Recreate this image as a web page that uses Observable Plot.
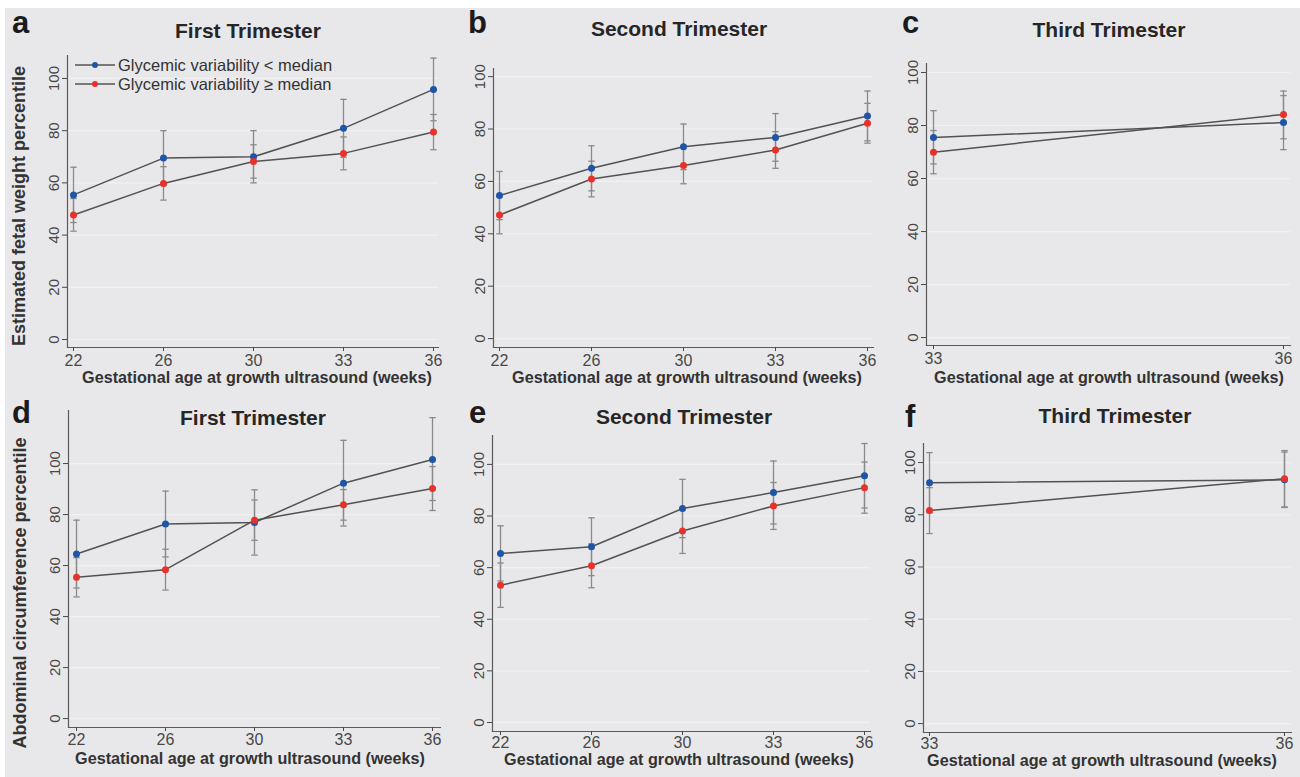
<!DOCTYPE html>
<html>
<head>
<meta charset="utf-8">
<script src="https://cdn.jsdelivr.net/npm/d3@7"></script>
<script src="https://cdn.jsdelivr.net/npm/@observablehq/plot@0.6"></script>
<style>
  html, body { margin: 0; padding: 0; background: #ffffff; }
  #root { position: relative; width: 1300px; height: 777px; background: #ffffff; overflow: hidden;
          font-family: "Liberation Sans", Arial, sans-serif; }
  #bg { position: absolute; left: 5px; top: 8px; right: 0; bottom: 0; background: #e8e8ea; }
  .panel { position: absolute; }
  #overlay { position: absolute; left: 0; top: 0; pointer-events: none; }
</style>
</head>
<body>
<div id="root"><div id="bg"></div></div>
<script>
// ---------- data ----------
const groups = ["Glycemic variability < median", "Glycemic variability \u2265 median"];
const weeksAll = [22, 26, 30, 33, 36];
const weeksThird = [33, 36];
const yTicks = [0, 20, 40, 60, 80, 100];

// a: EFW, first trimester
const efwFirstBelow   = [55.4, 69.5, 70.0, 80.9, 95.8];
const efwFirstBelowLo = [44.8, 59.0, 60.0, 69.8, 83.8];
const efwFirstBelowHi = [66.0, 80.0, 80.0, 92.0, 107.8];
const efwFirstAbove   = [47.7, 59.8, 68.2, 71.3, 79.5];
const efwFirstAboveLo = [41.5, 53.4, 61.8, 65.0, 72.7];
const efwFirstAboveHi = [54.0, 66.2, 74.6, 77.6, 86.2];

// b: EFW, second trimester
const efwSecondBelow   = [54.6, 65.0, 73.2, 76.8, 85.0];
const efwSecondBelowLo = [45.4, 56.4, 64.5, 67.7, 75.5];
const efwSecondBelowHi = [63.8, 73.6, 81.9, 85.9, 94.5];
const efwSecondAbove   = [47.2, 60.9, 66.1, 72.0, 82.2];
const efwSecondAboveLo = [40.0, 54.1, 59.1, 65.0, 74.6];
const efwSecondAboveHi = [54.2, 67.7, 73.1, 79.0, 89.8];

// c: EFW, third trimester
const efwThirdBelow   = [75.5, 81.1];
const efwThirdBelowLo = [65.5, 70.9];
const efwThirdBelowHi = [85.6, 91.3];
const efwThirdAbove   = [69.9, 84.2];
const efwThirdAboveLo = [61.8, 75.0];
const efwThirdAboveHi = [78.1, 93.0];

// d: AC, first trimester
const acFirstBelow   = [64.5, 76.3, 76.9, 92.3, 101.6];
const acFirstBelowLo = [51.2, 63.4, 64.1, 75.5, 85.5];
const acFirstBelowHi = [77.8, 89.2, 89.7, 109.1, 118.0];
const acFirstAbove   = [55.4, 58.4, 77.8, 83.8, 90.2];
const acFirstAboveLo = [47.7, 50.4, 69.9, 77.8, 81.6];
const acFirstAboveHi = [63.1, 66.4, 85.7, 89.8, 98.8];

// e: AC, second trimester
const acSecondBelow   = [65.5, 68.1, 82.9, 89.1, 95.6];
const acSecondBelowLo = [54.8, 56.9, 71.6, 76.9, 83.1];
const acSecondBelowHi = [76.2, 79.3, 94.2, 101.3, 108.1];
const acSecondAbove   = [53.2, 60.7, 74.2, 83.9, 91.0];
const acSecondAboveLo = [44.6, 52.2, 65.5, 74.8, 81.1];
const acSecondAboveHi = [61.8, 69.2, 82.9, 93.0, 100.9];

// f: AC, third trimester
const acThirdBelow   = [92.3, 93.4];
const acThirdBelowLo = [80.8, 82.8];
const acThirdBelowHi = [103.8, 104.0];
const acThirdAbove   = [81.6, 93.8];
const acThirdAboveLo = [72.8, 83.0];
const acThirdAboveHi = [90.4, 104.6];

const panelLetters = ["a", "b", "c", "d", "e", "f"];
const panelTitles = ["First Trimester", "Second Trimester", "Third Trimester",
                     "First Trimester", "Second Trimester", "Third Trimester"];
const xTitle = "Gestational age at growth ultrasound (weeks)";
const yTitles = ["Estimated fetal weight percentile", "Abdominal circumference percentile"];

// ---------- layout ----------
const panels = [
  {weeks: weeksAll, s: [efwFirstBelow, efwFirstBelowLo, efwFirstBelowHi, efwFirstAbove, efwFirstAboveLo, efwFirstAboveHi],
   L: 67, T: 55, R: 438, B: 347, il: 6, ir: 5, dom: [-3.07, 108.8], pad: 3,
   letter: [12, 33], title: [248, 38], xlab: [257, 383]},
  {weeks: weeksAll, s: [efwSecondBelow, efwSecondBelowLo, efwSecondBelowHi, efwSecondAbove, efwSecondAboveLo, efwSecondAboveHi],
   L: 493, T: 68, R: 873, B: 347, il: 6, ir: 6, dom: [-3.4, 103.1], pad: 3,
   letter: [468, 33], title: [679, 36], xlab: [687, 383]},
  {weeks: weeksThird, s: [efwThirdBelow, efwThirdBelowLo, efwThirdBelowHi, efwThirdAbove, efwThirdAboveLo, efwThirdAboveHi],
   L: 926, T: 63, R: 1290, B: 345, il: 7, ir: 7, dom: [-3.0, 103.4], pad: 3,
   letter: [902, 33], title: [1109, 37], xlab: [1109, 383]},
  {weeks: weeksAll, s: [acFirstBelow, acFirstBelowLo, acFirstBelowHi, acFirstAbove, acFirstAboveLo, acFirstAboveHi],
   L: 68, T: 410, R: 440, B: 727, il: 7, ir: 7, dom: [-3.5, 120.8], pad: 2,
   letter: [12, 423], title: [253, 425], xlab: [250, 764]},
  {weeks: weeksAll, s: [acSecondBelow, acSecondBelowLo, acSecondBelowHi, acSecondAbove, acSecondAboveLo, acSecondAboveHi],
   L: 492, T: 435, R: 870, B: 731, il: 7, ir: 6, dom: [-3.5, 111.2], pad: 1,
   letter: [469, 423], title: [684, 424], xlab: [679, 765]},
  {weeks: weeksThird, s: [acThirdBelow, acThirdBelowLo, acThirdBelowHi, acThirdAbove, acThirdAboveLo, acThirdAboveHi],
   L: 923, T: 443, R: 1291, B: 732, il: 6, ir: 7, dom: [-3.4, 107.3], pad: 1,
   letter: [905, 427], title: [1115, 423], xlab: [1102, 766]}
];

const COLORS = ["#1f55a6", "#e6322a"];
const FONT = "Liberation Sans, Arial, sans-serif";
const root = document.getElementById("root");

// horizontal cap symbol for the error bars
const capSymbol = {
  draw(context) {
    context.moveTo(-3.2, 0);
    context.lineTo(3.2, 0);
  }
};

panels.forEach((p) => {
  const data = [];
  p.weeks.forEach((w, i) => {
    data.push({week: String(w), group: groups[0], mean: p.s[0][i], lo: p.s[1][i], hi: p.s[2][i]});
  });
  p.weeks.forEach((w, i) => {
    data.push({week: String(w), group: groups[1], mean: p.s[3][i], lo: p.s[4][i], hi: p.s[5][i]});
  });
  const mL = 45, mR = 8, mT = 5, mB = 26;
  const width = p.R - p.L + mL + mR;
  const height = p.B - p.T + mT + mB;
  const chart = Plot.plot({
    width, height,
    marginLeft: mL, marginRight: mR, marginTop: mT, marginBottom: mB,
    style: {background: "transparent", fontFamily: FONT, overflow: "visible"},
    x: {type: "point", domain: p.weeks.map(String), padding: 0, insetLeft: p.il, insetRight: p.ir},
    y: {domain: p.dom},
    color: {domain: groups, range: COLORS},
    marks: [
      Plot.gridY(yTicks, {stroke: "#f1f1f3", strokeOpacity: 1, strokeWidth: 1.2}),
      Plot.frame({anchor: "left", stroke: "#5a5a5a", strokeWidth: 1.2}),
      Plot.frame({anchor: "bottom", stroke: "#5a5a5a", strokeWidth: 1.2}),
      Plot.axisY(yTicks, {tickRotate: -90, tickSize: 5, tickPadding: 4, fontSize: 15, color: "#484848", label: null}),
      Plot.axisX({tickSize: 4, tickPadding: p.pad, fontSize: 16, color: "#484848", label: null}),
      Plot.ruleX(data, {x: "week", y1: "lo", y2: "hi", stroke: "#8a8a8a", strokeWidth: 1.3}),
      Plot.dot(data, {x: "week", y: "lo", symbol: capSymbol, stroke: "#8a8a8a", fill: "none", strokeWidth: 1.3}),
      Plot.dot(data, {x: "week", y: "hi", symbol: capSymbol, stroke: "#8a8a8a", fill: "none", strokeWidth: 1.3}),
      Plot.line(data, {x: "week", y: "mean", z: "group", stroke: "#525252", strokeWidth: 1.5}),
      Plot.dot(data, {x: "week", y: "mean", fill: "group", r: 3.5})
    ]
  });
  chart.classList.add("panel");
  chart.style.left = (p.L - mL) + "px";
  chart.style.top = (p.T - mT) + "px";
  root.appendChild(chart);
});

// ---------- overlay texts ----------
const NS = "http://www.w3.org/2000/svg";
const ov = document.createElementNS(NS, "svg");
ov.setAttribute("id", "overlay");
ov.setAttribute("width", 1300);
ov.setAttribute("height", 777);
root.appendChild(ov);
function txt(s, x, y, attrs) {
  const t = document.createElementNS(NS, "text");
  t.textContent = s;
  t.setAttribute("x", x); t.setAttribute("y", y);
  t.setAttribute("font-family", FONT);
  for (const k in attrs) t.setAttribute(k, attrs[k]);
  ov.appendChild(t);
  return t;
}
panels.forEach((p, i) => {
  txt(panelLetters[i], p.letter[0], p.letter[1], {"font-size": 31, "font-weight": "bold", fill: "#1b1b1b"});
  txt(panelTitles[i], p.title[0], p.title[1], {"font-size": 21, "font-weight": "bold", fill: "#262626", "text-anchor": "middle"});
  txt(xTitle, p.xlab[0], p.xlab[1], {"font-size": 16.2, "font-weight": "bold", fill: "#333333", "text-anchor": "middle"});
});
txt(yTitles[0], 0, 0, {"font-size": 18, "font-weight": "bold", fill: "#333333", "text-anchor": "middle",
  dy: "0.35em", transform: "translate(19,206) rotate(-90)"});
txt(yTitles[1], 0, 0, {"font-size": 18, "font-weight": "bold", fill: "#333333", "text-anchor": "middle",
  dy: "0.35em", transform: "translate(20,593) rotate(-90)"});

// legend (panel a)
[65, 84].forEach((y, i) => {
  const l = document.createElementNS(NS, "line");
  l.setAttribute("x1", 75); l.setAttribute("x2", 115); l.setAttribute("y1", y); l.setAttribute("y2", y);
  l.setAttribute("stroke", "#555555"); l.setAttribute("stroke-width", 1.5);
  ov.appendChild(l);
  const c = document.createElementNS(NS, "circle");
  c.setAttribute("cx", 95); c.setAttribute("cy", y); c.setAttribute("r", 3); c.setAttribute("fill", COLORS[i]);
  ov.appendChild(c);
  txt(groups[i], 118, y + 5.5, {"font-size": 16.5, fill: "#333333"});
});
</script>
</body>
</html>
